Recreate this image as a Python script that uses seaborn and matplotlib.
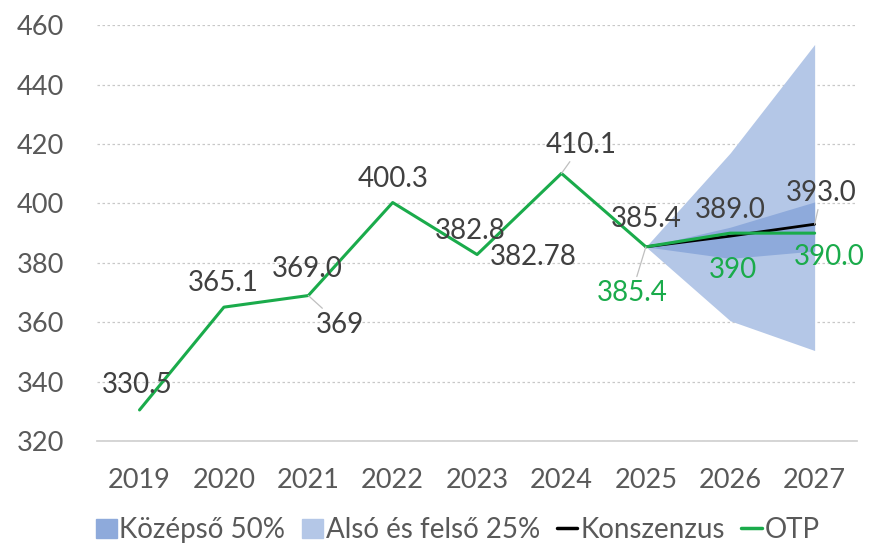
import matplotlib
matplotlib.use('Agg')
import matplotlib.pyplot as plt
import seaborn as sns
import pandas as pd
from matplotlib.patches import Patch
from matplotlib.lines import Line2D

years = ['2019', '2020', '2021', '2022', '2023', '2024', '2025', '2026', '2027']
otp = [330.5, 365.1, 369.0, 400.3, 382.8, 410.1, 385.4, 390.0, 390.0]

# forecast period (2025-2027)
fc_years = ['2025', '2026', '2027']
consensus = [385.4, 389.0, 393.0]
outer_low = [385.4, 360.5, 350.5]
outer_high = [385.4, 417.0, 453.5]
mid_low = [385.4, 381.5, 384.0]
mid_high = [385.4, 392.0, 400.5]

# extra labels shown on the chart
extra_labels = ['369', '382.78']

GREEN = '#1aab4b'
DARK = '#404040'
TICK = '#595959'
MID_BLUE = '#8eaadb'
LIGHT_BLUE = '#b4c7e7'

sns.set_theme(style="white")
plt.rcParams['font.family'] = ['Lato', 'DejaVu Sans']

fig = plt.figure(figsize=(8.69, 5.46), dpi=100)
ax = fig.add_axes([0.112, 0.192, 0.874, 0.762])

x_all = list(range(len(years)))
x_fc = [years.index(y) for y in fc_years]

ax.fill_between(x_fc, outer_low, outer_high, color=LIGHT_BLUE, lw=0, zorder=1)
ax.fill_between(x_fc, mid_low, mid_high, color=MID_BLUE, lw=0, zorder=2)

df_otp = pd.DataFrame({'x': x_all, 'v': otp})
df_con = pd.DataFrame({'x': x_fc, 'v': consensus})
sns.lineplot(data=df_con, x='x', y='v', color='black', lw=2, ax=ax, zorder=3)
sns.lineplot(data=df_otp, x='x', y='v', color=GREEN, lw=2.2, ax=ax, zorder=4)

ax.set_xlim(-0.5, len(years) - 0.5)
ax.set_ylim(320, 460)
ax.set_yticks(range(320, 461, 20))
ax.set_xticks(x_all)
ax.set_xticklabels(years)
ax.set_xlabel('')
ax.set_ylabel('')
ax.tick_params(axis='both', labelsize=19.5, colors=TICK, length=0)
ax.tick_params(axis='x', pad=19)
ax.tick_params(axis='y', pad=24)
ax.grid(axis='y', color='#c8c8c8', linestyle=(0, (2, 2)), lw=0.9)
ax.set_axisbelow(True)
for s in ['top', 'right', 'left']:
    ax.spines[s].set_visible(False)
ax.spines['bottom'].set_color('#d0d0d0')

fs = 20
lead = dict(arrowstyle='-', color='#bfbfbf', lw=0.9, shrinkA=0, shrinkB=0)

def lab(i, v, text, dx, dy, color=DARK, leader=False):
    ax.annotate(text, xy=(i, v), xytext=(dx, dy), textcoords='offset pixels',
                ha='center', va='center', fontsize=fs, color=color, zorder=6,
                arrowprops=lead if leader else None)

# OTP history labels
lab(0, otp[0], f'{otp[0]:.1f}', -2, 25)
lab(1, otp[1], f'{otp[1]:.1f}', -1, 24)
lab(2, otp[2], f'{otp[2]:.1f}', -1, 27)
lab(2, otp[2], extra_labels[0], 32, -29, leader=True)
lab(3, otp[3], f'{otp[3]:.1f}', 0, 24)
lab(4, otp[4], f'{otp[4]:.1f}', -7, 24)
lab(4, otp[4], extra_labels[1], 56, -2)
lab(5, otp[5], f'{otp[5]:.1f}', 20, 28, leader=True)
# 2025-2027
lab(6, consensus[0], f'{consensus[0]:.1f}', 0, 28)
lab(6, otp[6], f'{otp[6]:.1f}', -14, -46, color=GREEN, leader=True)
lab(7, consensus[1], f'{consensus[1]:.1f}', 0, 26)
lab(7, otp[7], f'{otp[7]:.0f}', 3, -37, color=GREEN)
lab(8, consensus[2], f'{consensus[2]:.1f}', 7, 31, leader=True)
lab(8, otp[8], f'{otp[8]:.1f}', 15, -24, color=GREEN)

handles = [Patch(color=MID_BLUE, label='Középső 50%'),
           Patch(color=LIGHT_BLUE, label='Alsó és felső 25%'),
           Line2D([], [], color='black', lw=2.5, label='Konszenzus'),
           Line2D([], [], color=GREEN, lw=2.5, label='OTP')]
fig.legend(handles=handles, loc='center', bbox_to_anchor=(0.527, 0.029), ncol=4,
           frameon=False, fontsize=20, handlelength=0.75, handleheight=0.7,
           handletextpad=0.1, columnspacing=0.6, labelcolor=TICK,
           borderpad=0, borderaxespad=0)

fig.savefig('out.png', dpi=100)
